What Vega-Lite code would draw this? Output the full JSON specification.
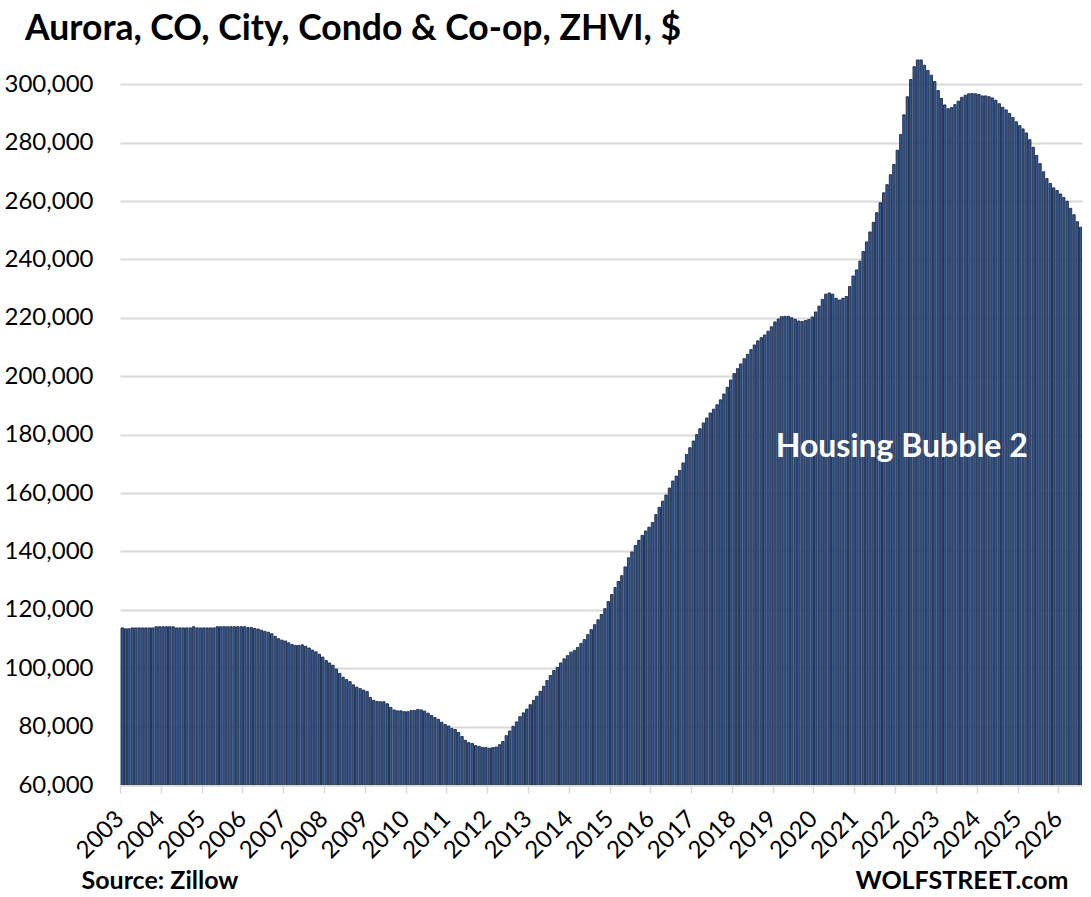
{
  "$schema": "https://vega.github.io/schema/vega-lite/v6.json",
  "width": 962,
  "height": 730,
  "autosize": "none",
  "padding": {"left": 120, "top": 55, "right": 9, "bottom": 112},
  "background": "white",
  "title": {
    "text": "Aurora, CO, City, Condo & Co-op, ZHVI, $",
    "anchor": "start",
    "frame": "group",
    "dx": -95,
    "dy": 37,
    "offset": 17,
    "baseline": "alphabetic",
    "font": "Lato",
    "fontSize": 35.5,
    "fontWeight": "bold",
    "color": "#000000"
  },
  "datasets": {
    "zhvi": [
      {"d": "2003-01-01", "v": 113800}, {"d": "2003-02-01", "v": 113500}, {"d": "2003-03-01", "v": 113500}, {"d": "2003-04-01", "v": 113800},
      {"d": "2003-05-01", "v": 113800}, {"d": "2003-06-01", "v": 113800}, {"d": "2003-07-01", "v": 113800}, {"d": "2003-08-01", "v": 113800},
      {"d": "2003-09-01", "v": 113800}, {"d": "2003-10-01", "v": 113800}, {"d": "2003-11-01", "v": 114200}, {"d": "2003-12-01", "v": 114200},
      {"d": "2004-01-01", "v": 114200}, {"d": "2004-02-01", "v": 114200}, {"d": "2004-03-01", "v": 114200}, {"d": "2004-04-01", "v": 114200},
      {"d": "2004-05-01", "v": 113800}, {"d": "2004-06-01", "v": 113800}, {"d": "2004-07-01", "v": 113800}, {"d": "2004-08-01", "v": 113800},
      {"d": "2004-09-01", "v": 113800}, {"d": "2004-10-01", "v": 114200}, {"d": "2004-11-01", "v": 113800}, {"d": "2004-12-01", "v": 113800},
      {"d": "2005-01-01", "v": 113800}, {"d": "2005-02-01", "v": 113800}, {"d": "2005-03-01", "v": 113800}, {"d": "2005-04-01", "v": 113800},
      {"d": "2005-05-01", "v": 114200}, {"d": "2005-06-01", "v": 114200}, {"d": "2005-07-01", "v": 114200}, {"d": "2005-08-01", "v": 114200},
      {"d": "2005-09-01", "v": 114200}, {"d": "2005-10-01", "v": 114200}, {"d": "2005-11-01", "v": 114200}, {"d": "2005-12-01", "v": 114200},
      {"d": "2006-01-01", "v": 114200}, {"d": "2006-02-01", "v": 113900}, {"d": "2006-03-01", "v": 113900}, {"d": "2006-04-01", "v": 113600},
      {"d": "2006-05-01", "v": 113400}, {"d": "2006-06-01", "v": 113000}, {"d": "2006-07-01", "v": 112600}, {"d": "2006-08-01", "v": 112300},
      {"d": "2006-09-01", "v": 111800}, {"d": "2006-10-01", "v": 110900}, {"d": "2006-11-01", "v": 110100}, {"d": "2006-12-01", "v": 109600},
      {"d": "2007-01-01", "v": 109300}, {"d": "2007-02-01", "v": 108700}, {"d": "2007-03-01", "v": 108100}, {"d": "2007-04-01", "v": 107800},
      {"d": "2007-05-01", "v": 107800}, {"d": "2007-06-01", "v": 108000}, {"d": "2007-07-01", "v": 107500}, {"d": "2007-08-01", "v": 106900},
      {"d": "2007-09-01", "v": 106200}, {"d": "2007-10-01", "v": 105600}, {"d": "2007-11-01", "v": 104800}, {"d": "2007-12-01", "v": 103800},
      {"d": "2008-01-01", "v": 102600}, {"d": "2008-02-01", "v": 101800}, {"d": "2008-03-01", "v": 101000}, {"d": "2008-04-01", "v": 99700},
      {"d": "2008-05-01", "v": 98200}, {"d": "2008-06-01", "v": 96900}, {"d": "2008-07-01", "v": 96100}, {"d": "2008-08-01", "v": 95400},
      {"d": "2008-09-01", "v": 94300}, {"d": "2008-10-01", "v": 93500}, {"d": "2008-11-01", "v": 93000}, {"d": "2008-12-01", "v": 92500},
      {"d": "2009-01-01", "v": 92000}, {"d": "2009-02-01", "v": 90000}, {"d": "2009-03-01", "v": 89000}, {"d": "2009-04-01", "v": 88600},
      {"d": "2009-05-01", "v": 88500}, {"d": "2009-06-01", "v": 88500}, {"d": "2009-07-01", "v": 87800}, {"d": "2009-08-01", "v": 86600},
      {"d": "2009-09-01", "v": 85700}, {"d": "2009-10-01", "v": 85400}, {"d": "2009-11-01", "v": 85400}, {"d": "2009-12-01", "v": 85100},
      {"d": "2010-01-01", "v": 85100}, {"d": "2010-02-01", "v": 85500}, {"d": "2010-03-01", "v": 85500}, {"d": "2010-04-01", "v": 85900},
      {"d": "2010-05-01", "v": 85700}, {"d": "2010-06-01", "v": 85300}, {"d": "2010-07-01", "v": 84600}, {"d": "2010-08-01", "v": 83800},
      {"d": "2010-09-01", "v": 83100}, {"d": "2010-10-01", "v": 82500}, {"d": "2010-11-01", "v": 81500}, {"d": "2010-12-01", "v": 80700},
      {"d": "2011-01-01", "v": 80200}, {"d": "2011-02-01", "v": 79400}, {"d": "2011-03-01", "v": 79000}, {"d": "2011-04-01", "v": 78000},
      {"d": "2011-05-01", "v": 76600}, {"d": "2011-06-01", "v": 75300}, {"d": "2011-07-01", "v": 74500}, {"d": "2011-08-01", "v": 74200},
      {"d": "2011-09-01", "v": 73500}, {"d": "2011-10-01", "v": 73200}, {"d": "2011-11-01", "v": 72900}, {"d": "2011-12-01", "v": 72800},
      {"d": "2012-01-01", "v": 72600}, {"d": "2012-02-01", "v": 72800}, {"d": "2012-03-01", "v": 73000}, {"d": "2012-04-01", "v": 73800},
      {"d": "2012-05-01", "v": 74900}, {"d": "2012-06-01", "v": 76900}, {"d": "2012-07-01", "v": 78500}, {"d": "2012-08-01", "v": 80100},
      {"d": "2012-09-01", "v": 81600}, {"d": "2012-10-01", "v": 83400}, {"d": "2012-11-01", "v": 84700}, {"d": "2012-12-01", "v": 86000},
      {"d": "2013-01-01", "v": 87500}, {"d": "2013-02-01", "v": 89000}, {"d": "2013-03-01", "v": 90400}, {"d": "2013-04-01", "v": 92100},
      {"d": "2013-05-01", "v": 93800}, {"d": "2013-06-01", "v": 95800}, {"d": "2013-07-01", "v": 97500}, {"d": "2013-08-01", "v": 99200},
      {"d": "2013-09-01", "v": 100300}, {"d": "2013-10-01", "v": 101800}, {"d": "2013-11-01", "v": 103200}, {"d": "2013-12-01", "v": 104300},
      {"d": "2014-01-01", "v": 105500}, {"d": "2014-02-01", "v": 106100}, {"d": "2014-03-01", "v": 107100}, {"d": "2014-04-01", "v": 108500},
      {"d": "2014-05-01", "v": 109800}, {"d": "2014-06-01", "v": 111500}, {"d": "2014-07-01", "v": 113200}, {"d": "2014-08-01", "v": 114900},
      {"d": "2014-09-01", "v": 116600}, {"d": "2014-10-01", "v": 118400}, {"d": "2014-11-01", "v": 120400}, {"d": "2014-12-01", "v": 122800},
      {"d": "2015-01-01", "v": 125200}, {"d": "2015-02-01", "v": 127600}, {"d": "2015-03-01", "v": 129700}, {"d": "2015-04-01", "v": 131700},
      {"d": "2015-05-01", "v": 134700}, {"d": "2015-06-01", "v": 137800}, {"d": "2015-07-01", "v": 139800}, {"d": "2015-08-01", "v": 142000},
      {"d": "2015-09-01", "v": 143800}, {"d": "2015-10-01", "v": 145500}, {"d": "2015-11-01", "v": 147000}, {"d": "2015-12-01", "v": 148300},
      {"d": "2016-01-01", "v": 149900}, {"d": "2016-02-01", "v": 152600}, {"d": "2016-03-01", "v": 155100}, {"d": "2016-04-01", "v": 157200},
      {"d": "2016-05-01", "v": 159300}, {"d": "2016-06-01", "v": 161700}, {"d": "2016-07-01", "v": 164100}, {"d": "2016-08-01", "v": 165800},
      {"d": "2016-09-01", "v": 167700}, {"d": "2016-10-01", "v": 170300}, {"d": "2016-11-01", "v": 173200}, {"d": "2016-12-01", "v": 175500},
      {"d": "2017-01-01", "v": 177800}, {"d": "2017-02-01", "v": 180000}, {"d": "2017-03-01", "v": 182000}, {"d": "2017-04-01", "v": 184000},
      {"d": "2017-05-01", "v": 185700}, {"d": "2017-06-01", "v": 187400}, {"d": "2017-07-01", "v": 188700}, {"d": "2017-08-01", "v": 190200},
      {"d": "2017-09-01", "v": 191900}, {"d": "2017-10-01", "v": 193900}, {"d": "2017-11-01", "v": 196200}, {"d": "2017-12-01", "v": 198700},
      {"d": "2018-01-01", "v": 200900}, {"d": "2018-02-01", "v": 202600}, {"d": "2018-03-01", "v": 204200}, {"d": "2018-04-01", "v": 206000},
      {"d": "2018-05-01", "v": 207500}, {"d": "2018-06-01", "v": 209100}, {"d": "2018-07-01", "v": 210700}, {"d": "2018-08-01", "v": 212100},
      {"d": "2018-09-01", "v": 213200}, {"d": "2018-10-01", "v": 214100}, {"d": "2018-11-01", "v": 215400}, {"d": "2018-12-01", "v": 216900},
      {"d": "2019-01-01", "v": 218600}, {"d": "2019-02-01", "v": 219600}, {"d": "2019-03-01", "v": 220400}, {"d": "2019-04-01", "v": 220500},
      {"d": "2019-05-01", "v": 220500}, {"d": "2019-06-01", "v": 220000}, {"d": "2019-07-01", "v": 219500}, {"d": "2019-08-01", "v": 218900},
      {"d": "2019-09-01", "v": 218700}, {"d": "2019-10-01", "v": 219100}, {"d": "2019-11-01", "v": 219400}, {"d": "2019-12-01", "v": 220300},
      {"d": "2020-01-01", "v": 222000}, {"d": "2020-02-01", "v": 224000}, {"d": "2020-03-01", "v": 226300}, {"d": "2020-04-01", "v": 228100},
      {"d": "2020-05-01", "v": 228500}, {"d": "2020-06-01", "v": 228100}, {"d": "2020-07-01", "v": 226700}, {"d": "2020-08-01", "v": 226100},
      {"d": "2020-09-01", "v": 226700}, {"d": "2020-10-01", "v": 227300}, {"d": "2020-11-01", "v": 230700}, {"d": "2020-12-01", "v": 234300},
      {"d": "2021-01-01", "v": 236400}, {"d": "2021-02-01", "v": 239400}, {"d": "2021-03-01", "v": 242700}, {"d": "2021-04-01", "v": 246000},
      {"d": "2021-05-01", "v": 249400}, {"d": "2021-06-01", "v": 252700}, {"d": "2021-07-01", "v": 256000}, {"d": "2021-08-01", "v": 259400},
      {"d": "2021-09-01", "v": 262800}, {"d": "2021-10-01", "v": 265600}, {"d": "2021-11-01", "v": 269000}, {"d": "2021-12-01", "v": 272500},
      {"d": "2022-01-01", "v": 277400}, {"d": "2022-02-01", "v": 282800}, {"d": "2022-03-01", "v": 289500}, {"d": "2022-04-01", "v": 295700},
      {"d": "2022-05-01", "v": 301600}, {"d": "2022-06-01", "v": 306000}, {"d": "2022-07-01", "v": 308300}, {"d": "2022-08-01", "v": 308300},
      {"d": "2022-09-01", "v": 306500}, {"d": "2022-10-01", "v": 304700}, {"d": "2022-11-01", "v": 303100}, {"d": "2022-12-01", "v": 300900},
      {"d": "2023-01-01", "v": 297800}, {"d": "2023-02-01", "v": 295100}, {"d": "2023-03-01", "v": 292900}, {"d": "2023-04-01", "v": 291600},
      {"d": "2023-05-01", "v": 292000}, {"d": "2023-06-01", "v": 293000}, {"d": "2023-07-01", "v": 294200}, {"d": "2023-08-01", "v": 295500},
      {"d": "2023-09-01", "v": 296200}, {"d": "2023-10-01", "v": 296700}, {"d": "2023-11-01", "v": 296800}, {"d": "2023-12-01", "v": 296700},
      {"d": "2024-01-01", "v": 296500}, {"d": "2024-02-01", "v": 296000}, {"d": "2024-03-01", "v": 296000}, {"d": "2024-04-01", "v": 295700},
      {"d": "2024-05-01", "v": 295300}, {"d": "2024-06-01", "v": 294500}, {"d": "2024-07-01", "v": 293300}, {"d": "2024-08-01", "v": 292100},
      {"d": "2024-09-01", "v": 291200}, {"d": "2024-10-01", "v": 290000}, {"d": "2024-11-01", "v": 288600}, {"d": "2024-12-01", "v": 287100},
      {"d": "2025-01-01", "v": 285800}, {"d": "2025-02-01", "v": 284700}, {"d": "2025-03-01", "v": 283300}, {"d": "2025-04-01", "v": 281000},
      {"d": "2025-05-01", "v": 278400}, {"d": "2025-06-01", "v": 275600}, {"d": "2025-07-01", "v": 272800}, {"d": "2025-08-01", "v": 270000},
      {"d": "2025-09-01", "v": 267700}, {"d": "2025-10-01", "v": 266000}, {"d": "2025-11-01", "v": 264500}, {"d": "2025-12-01", "v": 263600},
      {"d": "2026-01-01", "v": 262400}, {"d": "2026-02-01", "v": 261200}, {"d": "2026-03-01", "v": 259900}, {"d": "2026-04-01", "v": 257500},
      {"d": "2026-05-01", "v": 255300}, {"d": "2026-06-01", "v": 252900}, {"d": "2026-07-01", "v": 251000}
    ],
    "note": [
      {"d": "2019-01-01", "v": 172300, "label": "Housing Bubble 2"}
    ]
  },
  "layer": [
    {
      "data": {"name": "zhvi"},
      "mark": {"type": "bar", "fill": "#2F5AA0", "stroke": "#20283A", "strokeWidth": 0.9, "clip": true},
      "encoding": {
        "x": {
          "field": "d",
          "type": "temporal",
          "timeUnit": "utcyearmonth",
          "scale": {
            "type": "utc",
            "domain": [{"year": 2003, "month": 1, "date": 1, "utc": true}, {"year": 2026, "month": 8, "date": 1, "utc": true}],
            "nice": false
          },
          "axis": {
            "format": "%Y",
            "tickCount": {"interval": "year", "step": 1},
            "labelAngle": -45,
            "labelAlign": "right",
            "labelBaseline": "middle",
            "labelPadding": 22,
            "labelFont": "Lato",
            "labelFontSize": 24,
            "labelColor": "#000000",
            "labelOverlap": false,
            "labelFlush": false,
            "grid": false,
            "domainColor": "#D9D9D9",
            "domainWidth": 2,
            "tickColor": "#D9D9D9",
            "tickWidth": 1.5,
            "tickSize": 8,
            "title": "Source: Zillow",
            "titleFont": "Lato",
            "titleFontSize": 25,
            "titleFontWeight": "bold",
            "titleColor": "#000000",
            "titleAlign": "left",
            "titleBaseline": "alphabetic",
            "titleAnchor": "start",
            "titleX": -39,
            "titleY": 103
          }
        },
        "y": {
          "field": "v",
          "type": "quantitative",
          "scale": {"domain": [60000, 310000], "nice": false, "zero": false},
          "axis": {
            "values": [60000, 80000, 100000, 120000, 140000, 160000, 180000, 200000, 220000, 240000, 260000, 280000, 300000],
            "format": ",.0f",
            "domain": false,
            "ticks": false,
            "gridColor": "#D9D9D9",
            "gridWidth": 1.8,
            "labelFont": "Lato",
            "labelFontSize": 24,
            "labelColor": "#000000",
            "labelPadding": 27,
            "title": null
          }
        }
      }
    },
    {
      "data": {"name": "note"},
      "mark": {"type": "text", "align": "left", "baseline": "alphabetic", "dx": 3, "font": "Lato", "fontSize": 32, "fontWeight": "bold", "color": "#FFFFFF"},
      "encoding": {
        "x": {"field": "d", "type": "temporal", "timeUnit": "utcyearmonth"},
        "y": {
          "field": "v",
          "type": "quantitative",
          "axis": {
            "orient": "right",
            "labels": false,
            "ticks": false,
            "domain": false,
            "grid": false,
            "title": "WOLFSTREET.com",
            "titleAngle": 0,
            "titleFont": "Lato",
            "titleFontSize": 25,
            "titleFontWeight": "bold",
            "titleColor": "#000000",
            "titleAlign": "right",
            "titleBaseline": "alphabetic",
            "titleX": -14,
            "titleY": 833
          }
        },
        "text": {"field": "label"}
      }
    }
  ],
  "resolve": {"axis": {"y": "independent"}},
  "config": {"view": {"stroke": null}}
}
